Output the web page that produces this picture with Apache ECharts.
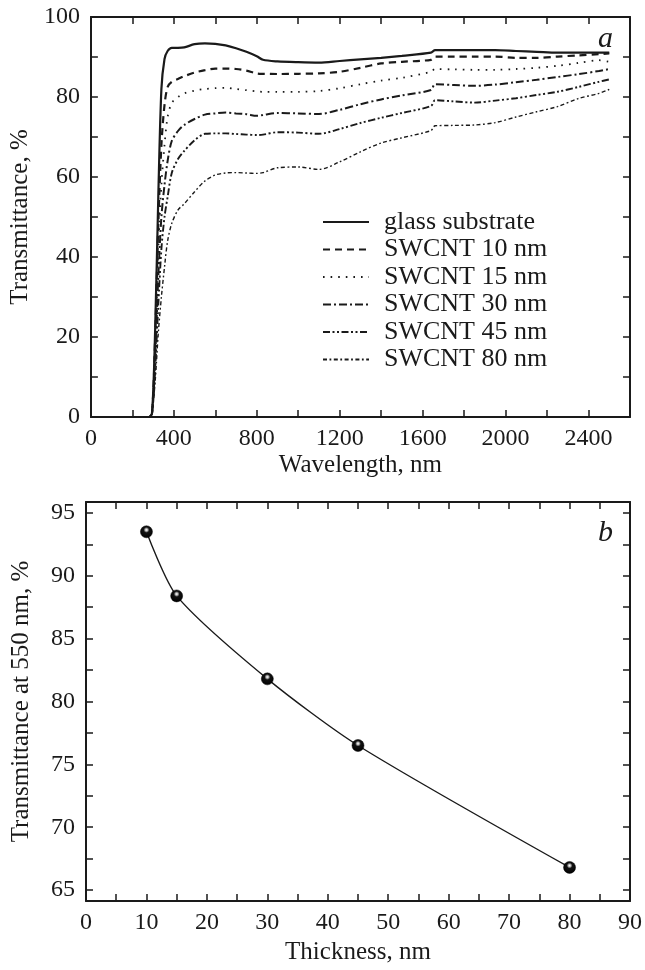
<!DOCTYPE html>
<html>
<head>
<meta charset="utf-8">
<script src="https://cdn.jsdelivr.net/npm/echarts@6/dist/echarts.min.js"></script>
<style>html,body{margin:0;padding:0;background:#fff;}#c{width:645px;height:970px;}</style>
</head>
<body>
<div id="c"></div>
<script>
// ---- Data (panel a) ----
const wavelengths = [200,280,295,310,325,340,355,370,390,420,450,500,550,600,650,700,750,800,830,900,1000,1100,1200,1300,1400,1500,1640,1660,1750,1850,1950,2050,2150,2250,2350,2450,2500];
const glass   = [0,0,1,22,55,82,89.5,91.5,92.3,92.3,92.4,93.2,93.4,93.3,92.9,92.2,91.3,90.2,89.3,88.9,88.7,88.6,89.0,89.4,89.8,90.3,91.1,91.7,91.7,91.7,91.7,91.5,91.3,91.1,91.1,91.1,91.1];
const swcnt10 = [0,0,1,20,48,68,78,82.5,83.8,84.5,85.2,86.1,86.7,87.1,87.1,87.0,86.6,85.9,85.8,85.75,85.8,85.9,86.3,87.3,88.4,88.8,89.3,90.1,90.1,90.1,90.1,89.8,89.8,90.1,90.4,90.7,90.9];
const swcnt15 = [0,0,1,18,42,58,68,75,78.5,80.0,80.9,81.6,82.0,82.2,82.3,82.0,81.7,81.4,81.3,81.3,81.3,81.5,82.2,83.2,84.1,84.8,86.3,87.0,86.9,86.8,86.8,87.0,87.3,87.8,88.5,89.2,88.8];
const swcnt30 = [0,0,1,15,35,50,58,64,69,71.5,73,74.5,75.6,75.9,76.1,75.9,75.7,75.3,75.5,76.0,75.9,75.75,76.8,78.2,79.4,80.4,81.75,83.2,83.0,82.8,83.1,83.7,84.3,85.0,85.7,86.5,87.0];
const swcnt45 = [0,0,1,12,28,42,50,55,61,64.5,66.5,69.2,70.8,70.9,70.9,70.75,70.6,70.5,70.6,71.2,71.1,70.8,72.0,73.5,74.8,76.0,77.75,79.2,78.9,78.6,79.1,79.7,80.5,81.3,82.5,83.8,84.4];
const swcnt80 = [0,0,1.75,9,21,30,37.5,44,48.4,51.75,53.3,56.3,59.0,60.5,61.0,61.1,61.0,60.9,61.1,62.3,62.5,61.9,63.8,66.3,68.5,69.8,71.6,72.8,72.9,73.0,73.6,75.0,76.3,77.6,79.6,80.9,81.9];
const seriesNames = ['glass substrate','SWCNT 10 nm','SWCNT 15 nm','SWCNT 30 nm','SWCNT 45 nm','SWCNT 80 nm'];

// ---- Data (panel b) ----
const thickness = [10,15,30,45,80];
const trans550  = [93.5,88.4,81.8,76.5,66.8];
const yTicksB   = [65,70,75,80,85,90,95];
const yMinorB   = [65,67.5,70,72.5,75,77.5,80,82.5,85,87.5,90,92.5,95];

const FONT = 'Liberation Serif';
const INK = '#1a1a1a';

const spectra = [glass, swcnt10, swcnt15, swcnt30, swcnt45, swcnt80];
const dashes = [
  {type:'solid', width:2.2},
  {type:[7,5], width:2.2},
  {type:[1.6,6], width:1.8},
  {type:[8,3,2,3], width:2},
  {type:[7,2.5,2,2.5,2,2.5], width:1.9},
  {type:[4,2.5,1.8,2.5], width:1.4}
];

const pair = (xs, ys) => xs.map((x, i) => [x, ys[i]]);

const axisLine = () => ({show:true, onZero:false, lineStyle:{color:INK, width:2}});
const tick = (extra) => Object.assign({show:true, inside:true, length:7, lineStyle:{color:INK, width:1.5}}, extra || {});
const label = (extra) => Object.assign({color:INK, fontFamily:FONT, fontSize:24}, extra || {});
const nameStyle = () => ({color:INK, fontFamily:FONT, fontSize:25});

const series = spectra.map((vals, i) => ({
  name: seriesNames[i],
  type: 'line',
  xAxisIndex: 0, yAxisIndex: 0,
  data: pair(wavelengths, vals),
  symbol: 'none',
  showSymbol: false,
  smooth: 0.3,
  lineStyle: {color: INK, width: dashes[i].width, type: dashes[i].type},
  itemStyle: {color: INK},
  silent: true,
  animation: false
}));

series.push({
  name: 'T550',
  type: 'line',
  xAxisIndex: 2, yAxisIndex: 2,
  data: pair(thickness, trans550),
  smooth: 0.25,
  symbol: 'circle',
  symbolSize: 12,
  lineStyle: {color: INK, width: 1.4},
  itemStyle: {
    color: {type:'radial', x:0.5, y:0.35, r:0.65,
      colorStops:[{offset:0,color:'#ffffff'},{offset:0.15,color:'#bbbbbb'},{offset:0.35,color:'#111'},{offset:1,color:'#000'}]},
    borderColor:'#000', borderWidth:0.5
  },
  animation: false
});

const chart = echarts.init(document.getElementById('c'), null, {renderer:'canvas'});
chart.setOption({
  backgroundColor: '#fff',
  animation: false,
  grid: [
    {left:87, right:15, top:17, height:400},
    {left:86, right:15, top:502, height:399}
  ],
  legend: {
    show: true,
    data: seriesNames,
    orient: 'vertical',
    left: 322, top: 209,
    padding: 0,
    itemWidth: 46, itemHeight: 10, itemGap: 1.5,
    itemStyle: {opacity: 0},
    textStyle: {color: INK, fontFamily: FONT, fontSize: 26, lineHeight: 25.5, padding:[0,0,0,10]},
    selectedMode: false
  },
  xAxis: [
    {gridIndex:0, type:'value', min:0, max:2600, interval:200, position:'bottom',
     name:'Wavelength, nm', nameLocation:'middle', nameGap:36, nameTextStyle:nameStyle(),
     axisLine:axisLine(), axisTick:tick(), splitLine:{show:false},
     axisLabel:label({margin:10, formatter:v => (v % 400 === 0 ? String(v) : '')})},
    {gridIndex:0, type:'value', min:0, max:2600, interval:200, position:'top',
     axisLine:axisLine(), axisTick:tick(), splitLine:{show:false}, axisLabel:{show:false}},
    {gridIndex:1, type:'value', min:0, max:90, interval:5, position:'bottom',
     name:'Thickness, nm', nameLocation:'middle', nameGap:39, nameTextStyle:nameStyle(),
     axisLine:axisLine(), axisTick:tick(), splitLine:{show:false},
     axisLabel:label({margin:10, formatter:v => (v % 10 === 0 ? String(v) : '')})},
    {gridIndex:1, type:'value', min:0, max:90, interval:5, position:'top',
     axisLine:axisLine(), axisTick:tick(), splitLine:{show:false}, axisLabel:{show:false}}
  ],
  yAxis: [
    {gridIndex:0, type:'value', min:0, max:100, interval:10, position:'left',
     name:'Transmittance, %', nameLocation:'middle', nameGap:52, nameTextStyle:nameStyle(),
     axisLine:axisLine(), axisTick:tick(), splitLine:{show:false},
     axisLabel:label({margin:11, formatter:v => (v % 20 === 0 ? String(v) : '')})},
    {gridIndex:0, type:'value', min:0, max:100, interval:10, position:'right',
     axisLine:axisLine(), axisTick:tick(), splitLine:{show:false}, axisLabel:{show:false}},
    {gridIndex:1, type:'value', min:64.13, max:95.87, position:'left',
     name:'Transmittance at 550 nm, %', nameLocation:'middle', nameGap:52, nameTextStyle:nameStyle(),
     axisLine:axisLine(),
     axisTick:tick({customValues:yMinorB}), splitLine:{show:false},
     axisLabel:label({margin:11, customValues:yTicksB})},
    {gridIndex:1, type:'value', min:64.13, max:95.87, position:'right',
     axisLine:axisLine(),
     axisTick:tick({customValues:yMinorB}), splitLine:{show:false}, axisLabel:{show:false}}
  ],
  graphic: [
    {type:'text', left:598, top:24, style:{text:'a', fill:INK, font:'italic 30px "Liberation Serif"'}},
    {type:'text', left:598, top:518, style:{text:'b', fill:INK, font:'italic 30px "Liberation Serif"'}}
  ],
  series: series
});
</script>
</body>
</html>
